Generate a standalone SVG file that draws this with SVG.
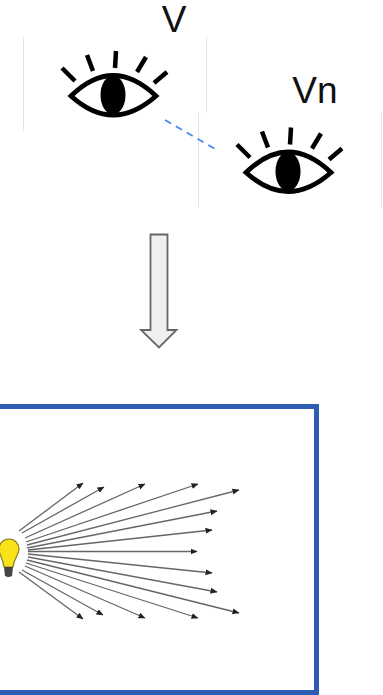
<svg xmlns="http://www.w3.org/2000/svg" width="383" height="695" viewBox="0 0 383 695">
<style>
.frame{stroke:#e3e3e3;stroke-width:1;fill:none}
.lash{stroke:#000;stroke-width:4.500;fill:none}
.lid{stroke:#000;stroke-width:4.800;fill:#fff;stroke-linejoin:miter}
.label{font-family:"Liberation Sans",Arial,sans-serif;font-size:37px;fill:#111}
.ray{stroke:#666;stroke-width:1.300;fill:none;marker-end:url(#tip)}
</style>
<defs>
<marker id="tip" viewBox="0 0 7 7" refX="6.500" refY="3.500" markerWidth="7" markerHeight="7" markerUnits="userSpaceOnUse" orient="auto"><path d="M0 .5L7 3.500L0 6.500z" fill="#222"/></marker>
<g id="eye">
<path class="lash" d="M62 68L75 81M87 55L93 71M116 51L115 68M146 57L137 72M167 72L154 83"/>
<path class="lid" d="M71 96Q113 55 156 96Q113 134 71 96z"/>
<ellipse cx="113" cy="95" rx="12.500" ry="19.500" fill="#000"/>
</g>
</defs>
<g id="view-v">
<path class="frame" d="M23.500 37V131M206.500 37V113"/>
<use href="#eye"/>
<text class="label" x="174" y="32" text-anchor="middle">V</text>
</g>
<g id="view-vn">
<path class="frame" d="M198.500 113V207M381.500 113V207"/>
<use href="#eye" x="175" y="76.500"/>
<text class="label" x="315" y="103" text-anchor="middle">Vn</text>
</g>
<g id="connectors">
<path d="M165 120L217 150" stroke="#4285f4" stroke-width="1.600" stroke-dasharray="7 5.500" fill="none"/>
</g>
<g id="down-arrow">
<path d="M150.500 234.500H167.500V330H176.500L159 347.500L141 330H150.500z" fill="#efefef" stroke="#666" stroke-width="1.800"/>
</g>
<g id="light-box">
<rect x="-4" y="406.500" width="320.500" height="286" fill="#fff" stroke="#2e5cb2" stroke-width="5"/>
</g>
<g id="bulb">
<path d="M9 539C3 539 -1 544 -1 549C-1 555 3 558 4 567H13C14 558 19 555 19 549C19 544 15 539 9 539z" fill="#f7e318" stroke="#8a7a20" stroke-width="1.200"/>
<path d="M4 567H13L12 576Q8.500 578 5 576z" fill="#444"/>
</g>
<g id="rays">
<path class="ray" d="M19 531L83 483"/>
<path class="ray" d="M22 533L104 487"/>
<path class="ray" d="M25 538L145 484"/>
<path class="ray" d="M26 542L198 484"/>
<path class="ray" d="M27 545L239 490"/>
<path class="ray" d="M27 548L217 511"/>
<path class="ray" d="M28 550L212 530"/>
<path class="ray" d="M28 551.500L197 551.500"/>
<path class="ray" d="M28 554L212 573"/>
<path class="ray" d="M28 557L217 592"/>
<path class="ray" d="M27 560L239 613"/>
<path class="ray" d="M26 563L198 618"/>
<path class="ray" d="M25 566L145 618"/>
<path class="ray" d="M22 570L103 615"/>
<path class="ray" d="M19 572L83 619"/>
</g>
</svg>
